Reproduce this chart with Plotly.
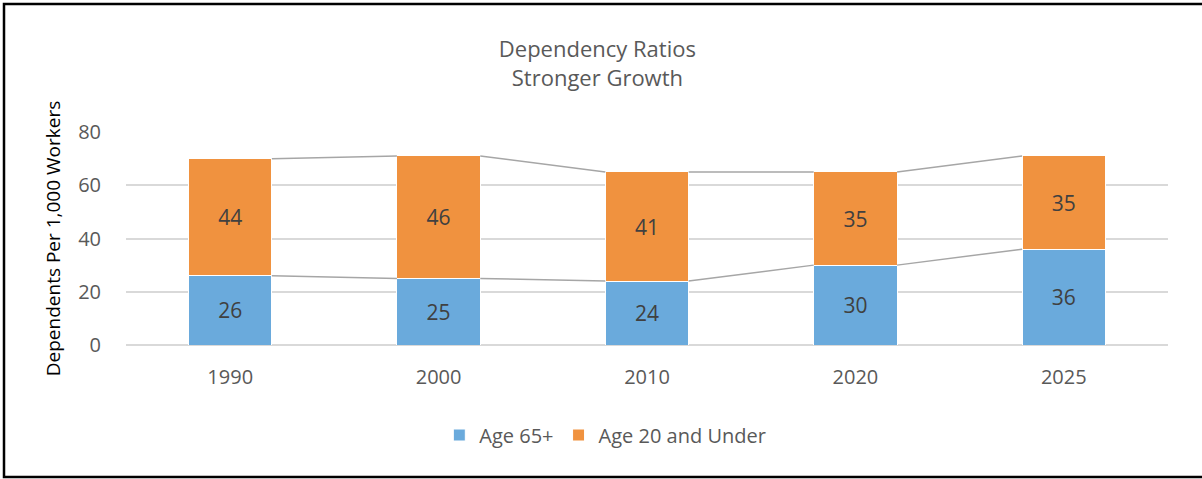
import plotly.graph_objects as go

years = ["1990", "2000", "2010", "2020", "2025"]
age_65_plus = [26, 25, 24, 30, 36]
age_20_under = [44, 46, 41, 35, 35]
y_ticks = [0, 20, 40, 60, 80]

BLUE = "#6AAADC"
ORANGE = "#F0923F"
GRID = "#D9D9D9"
SERIES_LINE = "#A6A6A6"
FONT = "Open Sans"

W, H = 1202, 479
ML, MR, MT, MB = 126, 34, 132, 134
BAR_W = 0.4

x = list(range(len(years)))
totals = [a + b for a, b in zip(age_65_plus, age_20_under)]

fig = go.Figure()

fig.add_trace(go.Bar(
    x=x, y=age_65_plus, name="Age 65+", width=BAR_W,
    marker=dict(color=BLUE, line=dict(color="#FFFFFF", width=1)),
    text=[str(v) for v in age_65_plus], textposition="inside",
    insidetextanchor="middle",
    textfont=dict(family=FONT, size=21, color="#404040"),
))
fig.add_trace(go.Bar(
    x=x, y=age_20_under, name="Age 20 and Under", width=BAR_W,
    marker=dict(color=ORANGE, line=dict(color="#FFFFFF", width=1)),
    text=[str(v) for v in age_20_under], textposition="inside",
    insidetextanchor="middle",
    textfont=dict(family=FONT, size=21, color="#404040"),
))

# series lines joining the tops of neighbouring stacked segments
for level in (age_65_plus, totals):
    for i in range(len(x) - 1):
        fig.add_trace(go.Scatter(
            x=[x[i] + BAR_W / 2, x[i + 1] - BAR_W / 2],
            y=[level[i], level[i + 1]],
            mode="lines", line=dict(color=SERIES_LINE, width=1.5),
            showlegend=False, hoverinfo="skip",
        ))

pw = W - ML - MR
ph = H - MT - MB
# outer frame of the chart (right edge runs off the page)
fig.add_shape(
    type="rect", xref="paper", yref="paper",
    x0=(4 - ML) / pw, x1=(W + 10 - ML) / pw,
    y0=-(MB - 2) / ph,
    y1=1 + (MT - 4) / ph,
    line=dict(color="#000000", width=2.5), fillcolor="rgba(0,0,0,0)",
    layer="above",
)

fig.update_layout(
    width=W, height=H,
    margin=dict(l=ML, r=MR, t=MT, b=MB),
    paper_bgcolor="white", plot_bgcolor="white",
    barmode="stack",
    title=dict(
        text="Dependency Ratios<br>Stronger Growth",
        x=0.497, xanchor="center", y=1 - 57 / H, yanchor="middle",
        font=dict(family=FONT, size=22, color="#595959"),
    ),
    legend=dict(
        orientation="h", x=0.46, xanchor="center", y=-(435 - 345) / ph,
        yanchor="middle", font=dict(family=FONT, size=20, color="#595959"),
        itemwidth=30, traceorder="normal",
    ),
    xaxis=dict(
        tickmode="array", tickvals=x, ticktext=years,
        range=[-0.5, len(years) - 0.5],
        showgrid=False, zeroline=False, showline=False, ticks="",
        tickfont=dict(family=FONT, size=20, color="#595959"),
        ticklabelstandoff=18,
    ),
    yaxis=dict(
        range=[0, 80], tickvals=y_ticks,
        showgrid=True, gridcolor=GRID, gridwidth=1.5,
        zeroline=True, zerolinecolor=GRID, zerolinewidth=1.5,
        showline=False, ticks="",
        tickfont=dict(family=FONT, size=20, color="#595959"),
        ticklabelstandoff=24,
        title=dict(text="Dependents Per 1,000 Workers",
                   font=dict(family=FONT, size=19, color="#000000"),
                   standoff=12),
    ),
    bargap=0.6,
)

fig.write_html("out.html")
